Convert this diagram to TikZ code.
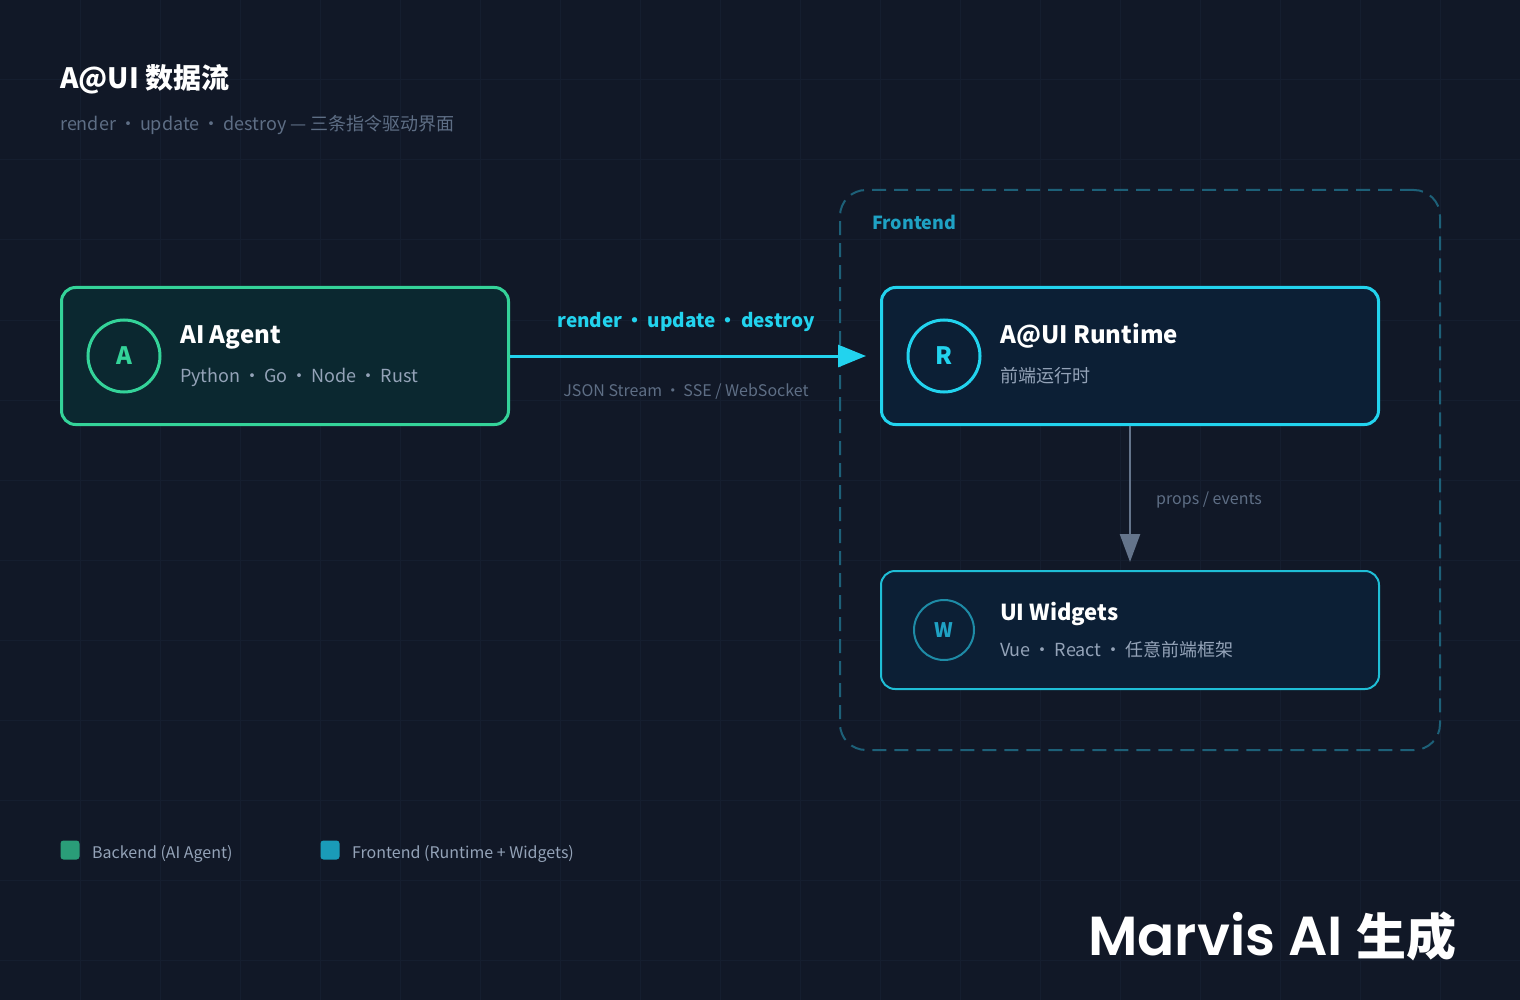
\documentclass[tikz,border=0pt]{standalone}
\usepackage{xcolor}
\usepackage{fontspec}
\setmainfont{Noto Sans CJK SC}
\newfontfamily\brandfont{Poppins}[UprightFont={* SemiBold}]
\usepackage{tikz}
\usetikzlibrary{arrows.meta, positioning}
\definecolor{bgdark}{HTML}{111827}
\definecolor{gridline}{HTML}{151E2F}
\definecolor{agentgreen}{HTML}{34D399}
\definecolor{agentfill}{HTML}{0B2830}
\definecolor{runcyan}{HTML}{22D3EE}
\definecolor{runfill}{HTML}{0C1F35}
\definecolor{widgetcyan}{HTML}{1E8BA6}
\definecolor{framecyan}{HTML}{1D6078}
\definecolor{labelcyan}{HTML}{1FA2C4}
\definecolor{textgrey}{HTML}{94A3B8}
\definecolor{mutedgrey}{HTML}{5E6E85}
\definecolor{arrowgrey}{HTML}{64748B}
\definecolor{legendgreen}{HTML}{2A9D78}
\definecolor{legendcyan}{HTML}{1A9BB8}
\newcommand{\pxsize}[1]{\fontsize{#1}{#1}\selectfont}
\newcommand{\sep}{\,·\,}

\begin{document}
\begin{tikzpicture}[x=1pt, y=-1pt,
    agentbox/.style={rectangle, rounded corners=14pt, minimum width=447pt, minimum height=137pt, draw=agentgreen, fill=agentfill, line width=3pt},
    runbox/.style={rectangle, rounded corners=14pt, minimum width=497pt, minimum height=137pt, draw=runcyan, fill=runfill, line width=3pt},
    widgetbox/.style={rectangle, rounded corners=14pt, minimum width=498pt, minimum height=118pt, draw=runcyan!90!black, fill=runfill, line width=2pt},
    framebox/.style={rectangle, rounded corners=26pt, minimum width=600pt, minimum height=560pt, draw=framecyan, line width=2pt, dash pattern=on 14pt off 8pt},
    ring/.style={circle, minimum size=72pt, inner sep=0pt, line width=3pt, font=\bfseries\pxsize{24}},
    headtext/.style={anchor=base west, inner sep=0pt, text=white, font=\bfseries\pxsize{24}},
    subtext/.style={anchor=base west, inner sep=0pt, text=textgrey, font=\pxsize{18}},
    smalltext/.style={inner sep=0pt, text=mutedgrey, font=\pxsize{16}},
    legendsq/.style={rectangle, rounded corners=3pt, minimum size=19pt, inner sep=0pt},
    streamarrow/.style={draw=runcyan, line width=3pt, -{Triangle[length=28pt, width=22pt]}},
    propsarrow/.style={draw=arrowgrey, line width=2.5pt, -{Triangle[length=28pt, width=20pt]}}
  ]
  \useasboundingbox (0,0) rectangle (1520,1000);
  \fill[bgdark] (0,0) rectangle (1520,1000);
  % faint background grid
  \foreach \gx in {80,160,...,1440}
    \draw[gridline, line width=1pt] (\gx,0) -- (\gx,1000);
  \foreach \gy in {80,160,...,960}
    \draw[gridline, line width=1pt] (0,\gy) -- (1520,\gy);

  % title
  \node[anchor=base west, inner sep=0pt, text=white, font=\bfseries\pxsize{28}] (title) at (60,89) {A@UI 数据流};
  \node[anchor=base west, inner sep=0pt, text=mutedgrey, font=\pxsize{18}] (subtitle) at (60,131) {render\sep update\sep destroy — 三条指令驱动界面};

  % backend
  \node[agentbox] (agent) at (285,356) {};
  \node[ring, draw=agentgreen, text=agentgreen] (agenticon) at (124,356) {A};
  \node[headtext] (agenttitle) at (180,343) {AI Agent};
  \node[subtext] (agentstack) at (180,382) {Python\sep Go\sep Node\sep Rust};

  % frontend group
  \node[framebox] (frontend) at (1140,470) {};
  \node[anchor=base west, inner sep=0pt, text=labelcyan, font=\bfseries\pxsize{18}] (frontendlabel) at (872,230) {Frontend};

  \node[runbox] (runtime) at (1130,356) {};
  \node[ring, draw=runcyan, text=runcyan] (runtimeicon) at (944,356) {R};
  \node[headtext] (runtimetitle) at (1000,343) {A@UI Runtime};
  \node[subtext] (runtimesub) at (1000,382) {前端运行时};

  \node[widgetbox] (widgets) at (1130,630) {};
  \node[ring, minimum size=60pt, line width=2pt, draw=widgetcyan, text=labelcyan, font=\bfseries\pxsize{20}] (widgetsicon) at (944,630) {W};
  \node[headtext, font=\bfseries\pxsize{22}] (widgetstitle) at (1000,620) {UI Widgets};
  \node[subtext] (widgetssub) at (1000,656) {Vue\sep React\sep 任意前端框架};

  % connectors
  \draw[streamarrow] (agent.east) -- ([xshift=-14pt]runtime.west);
  \node[anchor=base, inner sep=0pt, text=runcyan, font=\bfseries\pxsize{19}] (cmdlabel) at (686,327) {render\sep update\sep destroy};
  \node[smalltext, anchor=base] (transportlabel) at (686,396) {JSON Stream\sep SSE / WebSocket};

  \draw[propsarrow] (runtime.south) -- ([yshift=8pt]widgets.north);
  \node[smalltext, anchor=base west] (propslabel) at (1156,504) {props / events};

  % legend
  \node[legendsq, fill=legendgreen] (backendkey) at (70,850) {};
  \node[anchor=base west, inner sep=0pt, text=textgrey, font=\pxsize{16}] (backendkeylabel) at (92,858) {Backend (AI Agent)};
  \node[legendsq, fill=legendcyan] (frontendkey) at (330,850) {};
  \node[anchor=base west, inner sep=0pt, text=textgrey, font=\pxsize{16}] (frontendkeylabel) at (352,858) {Frontend (Runtime + Widgets)};

  % brand
  \node[anchor=base west, inner sep=0pt, text=white] (brand) at (1088,955) {{\brandfont\pxsize{55}Marvis AI }{\bfseries\pxsize{50}生成}};
\end{tikzpicture}
\end{document}
